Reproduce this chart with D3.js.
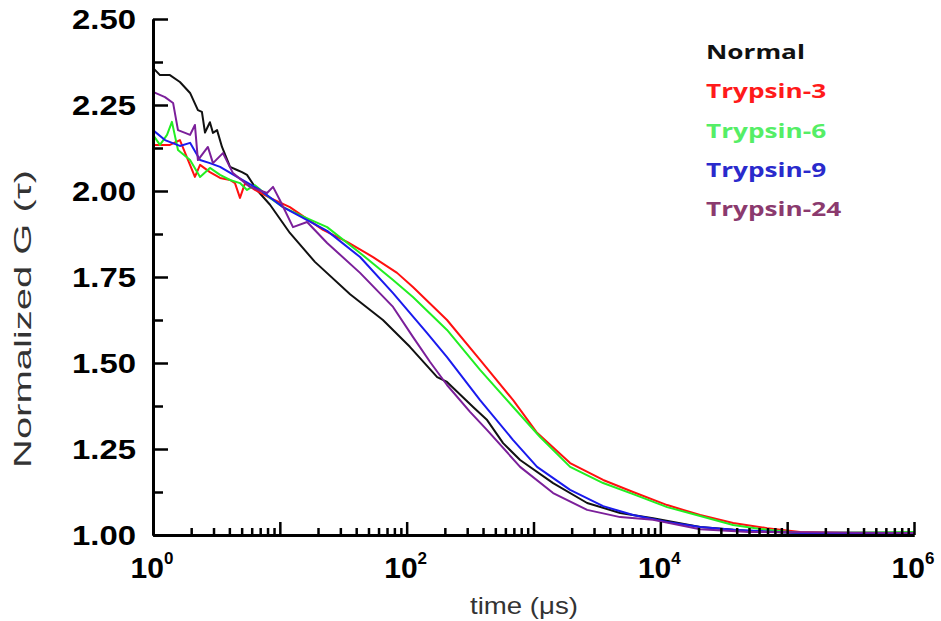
<!DOCTYPE html>
<html>
<head>
<meta charset="utf-8">
<script src="https://cdn.jsdelivr.net/npm/d3@7"></script>
<style>
  body { margin: 0; background: #fff; }
</style>
</head>
<body>
<script>
// lag time (us) and normalized G(tau)
var normal = [
  [1, 2.358], [1.135, 2.337], [1.36, 2.337], [1.63, 2.317], [1.96, 2.285], [2.26, 2.235],
  [2.43, 2.23], [2.57, 2.17], [2.81, 2.20], [2.97, 2.169], [3.2, 2.177], [3.5, 2.128],
  [4.05, 2.07], [4.6, 2.061], [5.03, 2.055], [5.51, 2.047], [6.6, 2.003], [8.37, 1.96],
  [12, 1.878], [18.9, 1.794], [35.8, 1.70], [65, 1.625], [106, 1.547], [174, 1.459],
  [208, 1.445], [334, 1.372], [431, 1.334], [576, 1.267], [784, 1.218], [1428, 1.151],
  [2648, 1.093], [4821, 1.064], [8770, 1.049], [20600, 1.023], [50000, 1.012],
  [126700, 1.006], [1e6, 1.005]
];
var trypsin3 = [
  [1, 2.134], [1.135, 2.134], [1.36, 2.134], [1.63, 2.148], [1.89, 2.09], [2.14, 2.041],
  [2.35, 2.076], [2.81, 2.055], [3.38, 2.038], [4.05, 2.032], [4.43, 2.023], [4.85, 1.98],
  [5.32, 2.023], [6.37, 2.003], [8.37, 1.98], [12, 1.953], [21.9, 1.887], [33.9, 1.852],
  [54.3, 1.808], [84, 1.762], [112, 1.721], [208, 1.625], [379, 1.509], [691, 1.392],
  [1067, 1.297], [1944, 1.209], [3540, 1.16], [6100, 1.125], [11320, 1.087],
  [20600, 1.058], [37500, 1.035], [69500, 1.02], [126700, 1.009], [314000, 1.006], [1e6, 1.006]
];
var trypsin6 = [
  [1, 2.163], [1.135, 2.134], [1.29, 2.163], [1.41, 2.201], [1.574, 2.119], [1.96, 2.09],
  [2.35, 2.041], [2.81, 2.067], [3.38, 2.047], [4.05, 2.032], [4.85, 2.023], [5.51, 2.003],
  [6.37, 2.017], [8.37, 1.98], [10.6, 1.953], [14.4, 1.93], [23.6, 1.895], [42.9, 1.82],
  [78.1, 1.741], [112, 1.692], [208, 1.596], [379, 1.48], [691, 1.372], [1127, 1.285],
  [1944, 1.198], [3540, 1.151], [6100, 1.119], [11320, 1.081], [20600, 1.055],
  [37500, 1.029], [69500, 1.015], [126700, 1.006], [1e6, 1.009]
];
var trypsin9 = [
  [1, 2.177], [1.243, 2.148], [1.63, 2.131], [1.96, 2.14], [2.35, 2.09], [2.81, 2.081],
  [3.38, 2.07], [4.6, 2.041], [6.98, 2.003], [10.6, 1.953], [23.6, 1.884], [42.9, 1.808],
  [78.1, 1.703], [145, 1.587], [208, 1.517], [379, 1.392], [691, 1.276], [1067, 1.198],
  [1944, 1.131], [3540, 1.084], [6100, 1.058], [11320, 1.038], [20600, 1.023],
  [37500, 1.015], [126700, 1.006], [1e6, 1.006]
];
var trypsin24 = [
  [1, 2.288], [1.243, 2.273], [1.44, 2.256], [1.574, 2.177], [1.79, 2.169], [1.96, 2.163],
  [2.14, 2.192], [2.26, 2.09], [2.71, 2.128], [2.97, 2.081], [3.56, 2.11], [4.27, 2.052],
  [5.82, 2.012], [7.93, 1.994], [8.84, 2.012], [10, 1.974], [12.7, 1.895], [16.4, 1.91],
  [23.6, 1.849], [42.9, 1.762], [78.1, 1.663], [112, 1.576], [153, 1.503], [208, 1.436],
  [316, 1.358], [431, 1.305], [784, 1.198], [1428, 1.122], [2648, 1.073], [4821, 1.052],
  [8770, 1.044], [20600, 1.017], [50000, 1.009], [1e6, 1.006]
];

var seriesNames = ["Normal", "Trypsin-3", "Trypsin-6", "Trypsin-9", "Trypsin-24"];
var seriesData = [normal, trypsin3, trypsin6, trypsin9, trypsin24];
var lineColors = ["#111111", "#ff1010", "#22ee22", "#1a1aee", "#7b1f9a"];
var legendColors = ["#111111", "#ff1a1a", "#55ee66", "#2a2acc", "#8b3a6e"];

var yMajor = [1.00, 1.25, 1.50, 1.75, 2.00, 2.25, 2.50];
var yMinor = [1.125, 1.375, 1.625, 1.875, 2.125, 2.375];
var xDecades = [0, 1, 2, 3, 4, 5, 6];
var xLabelExps = [0, 2, 4, 6];

var width = 941, height = 621;

var svg = d3.select("body")
    .append("svg")
        .attr("width", width)
        .attr("height", height);

var x = d3.scaleLog()
    .domain([1, 1e6])
    .range([153, 914]);

var y = d3.scaleLinear()
    .domain([1, 2.5])
    .range([535, 19]);

// minor x ticks 2..9 in every decade
var xMinor = [];
xDecades.slice(0, 6).forEach(function(e) {
    for (var k = 2; k < 10; k++) xMinor.push(k * Math.pow(10, e));
});

function styleAxis(g) {
    g.select(".domain").attr("stroke", "#000").attr("stroke-width", 3);
    g.selectAll(".tick line").attr("stroke", "#000").attr("stroke-width", 2.5);
    g.selectAll(".tick text").remove();
}

// data lines
var line = d3.line()
    .x(function(d) { return x(d[0]); })
    .y(function(d) { return y(d[1]); });

svg.append("g")
    .selectAll("path")
    .data(seriesData)
    .enter()
    .append("path")
        .attr("d", line)
        .attr("fill", "none")
        .attr("stroke", function(d, i) { return lineColors[i]; })
        .attr("stroke-width", 2)
        .attr("stroke-linejoin", "round");

// x axis, ticks pointing inside
svg.append("g")
    .attr("transform", "translate(0,535)")
    .call(d3.axisBottom(x).tickValues(xMinor).tickSize(-7).tickSizeOuter(0))
    .call(styleAxis);

svg.append("g")
    .attr("transform", "translate(0,535)")
    .call(d3.axisBottom(x).tickValues(xDecades.map(function(e) { return Math.pow(10, e); }))
        .tickSize(-13).tickSizeOuter(0))
    .call(styleAxis);

// y axis
svg.append("g")
    .attr("transform", "translate(153,0)")
    .call(d3.axisLeft(y).tickValues(yMinor).tickSize(-10).tickSizeOuter(0))
    .call(styleAxis);

svg.append("g")
    .attr("transform", "translate(153,0)")
    .call(d3.axisLeft(y).tickValues(yMajor).tickSize(-15).tickSizeOuter(0))
    .call(styleAxis);

// y tick labels
svg.append("g")
    .selectAll("text")
    .data(yMajor)
    .enter()
    .append("text")
        .attr("x", 136)
        .attr("y", function(d) { return y(d) + 9.5; })
        .attr("text-anchor", "end")
        .attr("textLength", 64)
        .attr("lengthAdjust", "spacingAndGlyphs")
        .style("font-family", "'Liberation Sans', Arial, sans-serif")
        .style("font-weight", "bold")
        .style("font-size", "27px")
        .text(function(d) { return d3.format(".2f")(d); });

// x tick labels 10^n
var xl = svg.append("g")
    .selectAll("text")
    .data(xLabelExps)
    .enter()
    .append("text")
        .attr("x", function(d) { return x(Math.pow(10, d)) - 1; })
        .attr("y", 578)
        .attr("text-anchor", "middle")
        .style("font-family", "'Liberation Sans', Arial, sans-serif")
        .style("font-weight", "bold")
        .style("font-size", "30px");
xl.append("tspan").text("10");
xl.append("tspan")
    .attr("dy", -14)
    .style("font-size", "17px")
    .text(function(d) { return d; });

// axis titles
svg.append("text")
    .attr("transform", "translate(31,319) rotate(-90)")
    .attr("text-anchor", "middle")
    .attr("textLength", 298)
    .attr("lengthAdjust", "spacingAndGlyphs")
    .style("font-family", "'Liberation Sans', Arial, sans-serif")
    .style("font-size", "24px")
    .style("fill", "#333")
    .text("Normalized G (\u03c4)");

svg.append("text")
    .attr("x", 524)
    .attr("y", 614)
    .attr("text-anchor", "middle")
    .attr("textLength", 108)
    .attr("lengthAdjust", "spacingAndGlyphs")
    .style("font-family", "'Liberation Sans', Arial, sans-serif")
    .style("font-size", "24px")
    .style("fill", "#333")
    .text("time (\u03bcs)");

// legend (source text is horizontally stretched)
svg.selectAll("legendlabels")
    .data(seriesNames)
    .enter()
    .append("text")
        .attr("transform", function(d, i) { return "translate(706," + (59 + i * 39.3) + ") scale(1.31,1)"; })
        .style("fill", function(d, i) { return legendColors[i]; })
        .style("font-family", "'Open Sans', sans-serif")
        .style("font-weight", "bold")
        .style("font-size", "20px")
        .text(function(d) { return d; });
</script>
</body>
</html>
